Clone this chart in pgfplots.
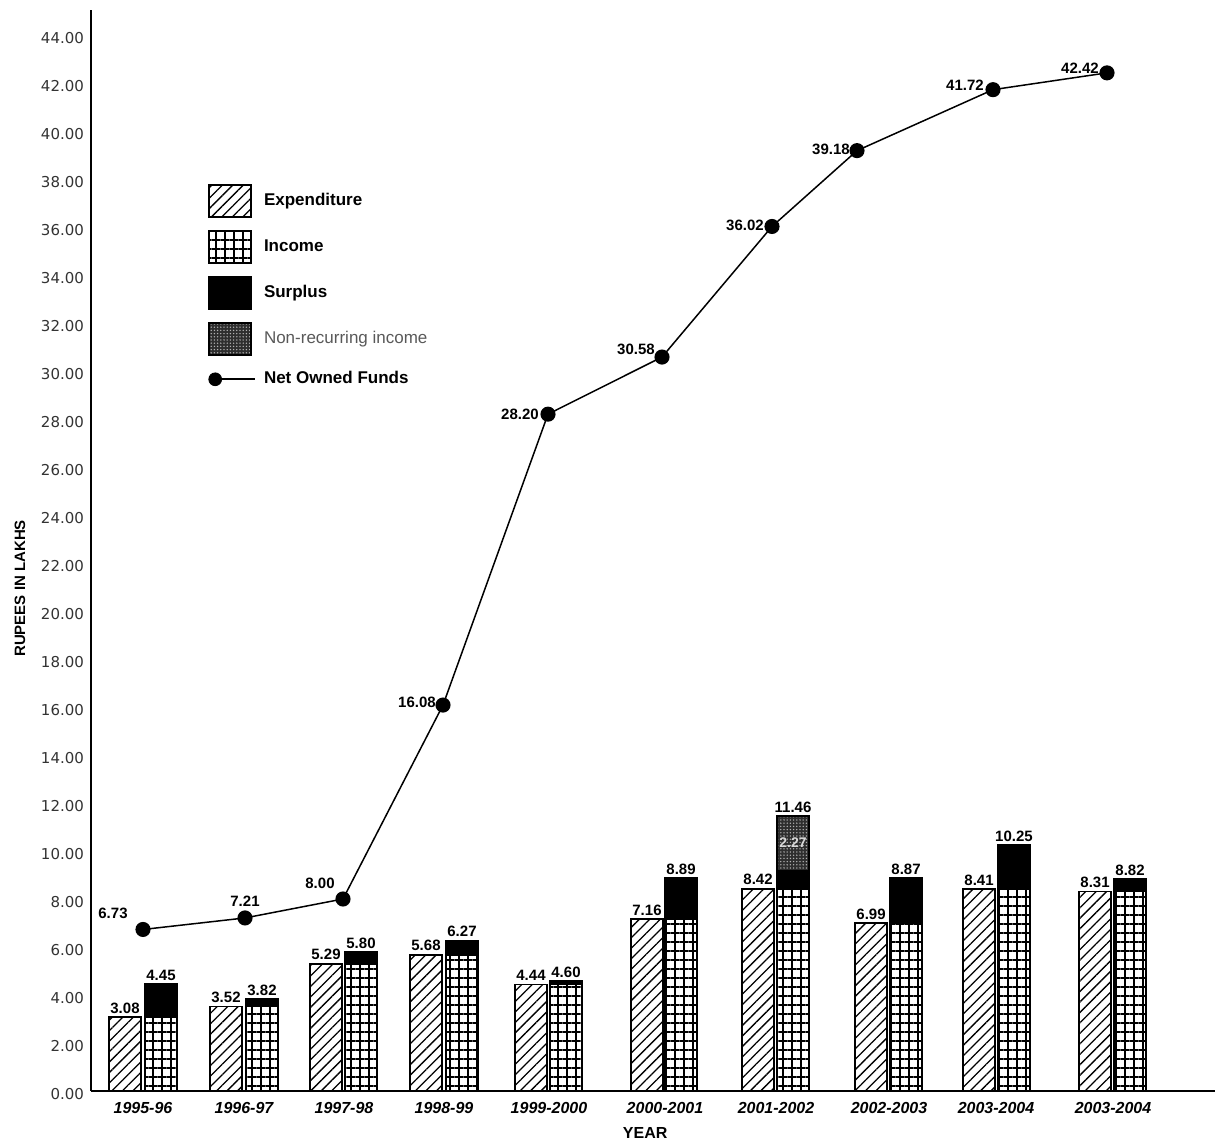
\documentclass[border=0pt]{standalone}
\usepackage{fontspec}
\setmainfont{Liberation Sans}
\newfontfamily\dejavu{DejaVu Sans}
\usepackage{pgfplots}
\pgfplotsset{compat=1.18}
\usetikzlibrary{patterns.meta}
\tikzset{
  expstyle/.style={draw=black, line width=0.9pt, fill=white, postaction={pattern={Lines[angle=45,distance=3.7pt,line width=0.65pt]}}},
  incstyle/.style={draw=black, line width=0.9pt, fill=white, postaction={pattern={Hatch[angle=0,distance=4.5pt,line width=1.05pt]}}},
  surstyle/.style={draw=black, line width=0.9pt, fill=black},
  nrstyle/.style={draw=black, line width=0.9pt, fill=black!82, postaction={pattern={Dots[distance=1.6pt,radius=0.38pt]}, pattern color=white!70!black}},
}
\begin{document}
\begin{tikzpicture}
\useasboundingbox (0,0) rectangle (607.5pt,570pt);
\begin{axis}[
  at={(45.5pt,24.5pt)}, anchor=south west,
  scale only axis, width=562pt, height=540.5pt,
  xmin=91, xmax=1215, ymin=0, ymax=45.04,
  clip=false,
  axis x line*=bottom, axis y line*=left,
  axis line style={-, line width=1.3pt},
  major tick length=0pt,
  ytick={0,2,...,44},
  /pgf/number format/assume math mode=true,
  yticklabel style={/pgf/number format/fixed, /pgf/number format/fixed zerofill, /pgf/number format/precision=2, font=\dejavu\fontsize{7.5}{9}\selectfont, text=black!80, anchor=east, yshift=-1.3pt},
  xtick={143,244,344,444,549,665,776,889,996,1113},
  xticklabels={1995-96,1996-97,1997-98,1998-99,1999-2000,2000-2001,2001-2002,2002-2003,2003-2004,2003-2004},
  xticklabel style={font=\bfseries\itshape\fontsize{8}{9}\selectfont, yshift=-2pt},
  xlabel={YEAR}, ylabel={RUPEES IN LAKHS},
  every axis x label/.style={at={(axis description cs:0.493,-0.039)}, anchor=center, font=\bfseries\fontsize{8}{9}\selectfont},
  every axis y label/.style={at={(axis description cs:-0.0632,0.465)}, rotate=90, anchor=center, font=\bfseries\fontsize{7.5}{9}\selectfont},
  legend style={draw=none, fill=none, at={(axis description cs:0.104,0.839)}, anchor=north west, inner sep=0pt, row sep=6pt, font=\bfseries\fontsize{8.5}{10}\selectfont, cells={anchor=west}, nodes={inner xsep=4pt}},
  legend cell align=left,
]
\addlegendimage{legend image code/.code={\draw[expstyle] (0pt,-8pt) rectangle (21pt,8pt);}}
\addlegendentry{Expenditure}
\addlegendimage{legend image code/.code={\draw[incstyle] (0pt,-8pt) rectangle (21pt,8pt);}}
\addlegendentry{Income}
\addlegendimage{legend image code/.code={\draw[surstyle] (0pt,-8pt) rectangle (21pt,8pt);}}
\addlegendentry{Surplus}
\addlegendimage{legend image code/.code={\draw[nrstyle] (0pt,-8pt) rectangle (21pt,8pt);}}
\addlegendentry{\mdseries\textcolor{black!65}{Non-recurring income}}
\addlegendimage{legend image code/.code={\draw[line width=0.8pt] (0pt,0pt) -- (23pt,0pt); \fill (3pt,0pt) circle (3.2pt);}}
\addlegendentry{Net Owned Funds}

% Expenditure bars
\addplot[ybar, bar shift=0pt, bar width=32, expstyle, forget plot,
  nodes near coords, point meta=explicit symbolic,
  nodes near coords style={font=\bfseries\fontsize{7.5}{9}\selectfont, anchor=south, inner sep=1.5pt}]
coordinates {(125,3.08)[3.08] (226,3.52)[3.52] (326,5.29)[5.29] (426,5.68)[5.68] (531,4.44)[4.44]
 (647,7.16)[7.16] (758,8.42)[8.42] (871,6.99)[6.99] (979,8.41)[8.41] (1095,8.31)[8.31]};

% Non-recurring income (2001-2002)
\addplot[ybar, bar shift=0pt, bar width=32, nrstyle, forget plot]
coordinates {(793,11.46)};

% Surplus (top of income)
\addplot[ybar, bar shift=0pt, bar width=32, surstyle, forget plot]
coordinates {(161,4.45) (262,3.82) (361,5.80) (462,6.27) (566,4.60) (681,8.89) (793,9.19) (906,8.87) (1014,10.25) (1130,8.82)};

% Income up to expenditure level
\addplot[ybar, bar shift=0pt, bar width=32, incstyle, forget plot]
coordinates {(161,3.08) (262,3.52) (361,5.29) (462,5.68) (566,4.44) (681,7.16) (793,8.42) (906,6.99) (1014,8.41) (1130,8.31)};

% Income labels
\addplot[draw=none, mark=none, forget plot,
  nodes near coords, point meta=explicit symbolic,
  nodes near coords style={font=\bfseries\fontsize{7.5}{9}\selectfont, anchor=south, inner sep=1.5pt}]
coordinates {(161,4.45)[4.45] (262,3.82)[3.82] (361,5.80)[5.80] (462,6.27)[6.27] (566,4.60)[4.60]
 (681,8.89)[8.89] (793,11.46)[11.46] (906,8.87)[8.87] (1014,10.25)[10.25] (1130,8.82)[8.82]};

% Non-recurring value label
\addplot[draw=none, mark=none, forget plot,
  nodes near coords, point meta=explicit symbolic,
  nodes near coords style={font=\bfseries\fontsize{7}{9}\selectfont, anchor=center, text=white!85!black}]
coordinates {(793,10.33)[2.27]};

% Net Owned Funds
\addplot[black, line width=0.75pt, mark=*, mark size=3.4pt, mark options={fill=black}, forget plot,
  nodes near coords, point meta=explicit symbolic,
  visualization depends on={\thisrow{dx}\as\dx},
  visualization depends on={\thisrow{dy}\as\dy},
  nodes near coords style={font=\bfseries\fontsize{7.5}{9}\selectfont, anchor=center, xshift=\dx pt, yshift=\dy pt}]
table[x=x, y=y, meta=lab]{
x y dx dy lab
143 6.73 -15 8 6.73
245 7.21 0 8.5 7.21
343 8.00 -11.5 8 8.00
443 16.08 -13 1.5 16.08
548 28.20 -14 0 28.20
662 30.58 -13 4 30.58
772 36.02 -13.5 0.5 36.02
857 39.18 -13 0.5 39.18
993 41.72 -14 2 41.72
1107 42.42 -13.5 2.5 42.42
};
\end{axis}
\end{tikzpicture}
\end{document}
